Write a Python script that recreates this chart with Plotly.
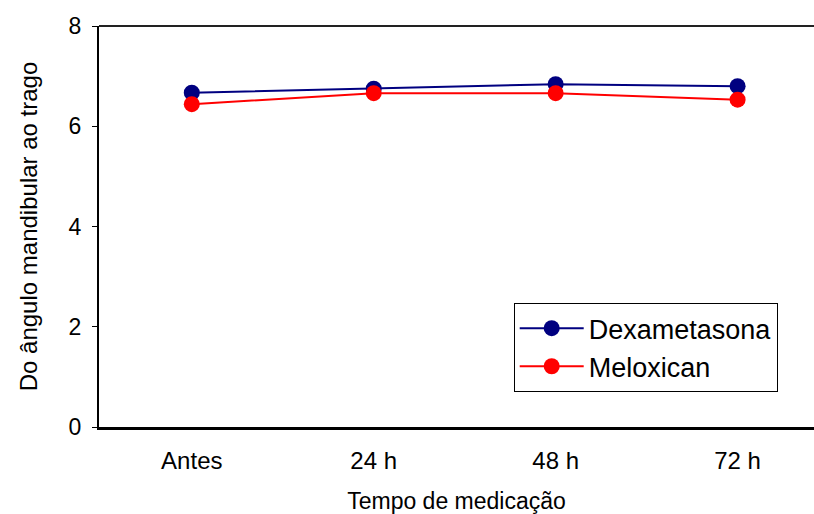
import plotly.graph_objects as go

categories = ["Antes", "24 h", "48 h", "72 h"]
dexametasona = [6.67, 6.75, 6.84, 6.80]
meloxican = [6.44, 6.66, 6.66, 6.53]
y_ticks = [0, 2, 4, 6, 8]

xpos = list(range(len(categories)))
FONT = "Liberation Sans, Arial, sans-serif"

fig = go.Figure()
fig.add_trace(go.Scatter(
    x=xpos, y=dexametasona, name="Dexametasona", mode="lines+markers",
    line=dict(color="#000080", width=2),
    marker=dict(color="#000080", size=16),
))
fig.add_trace(go.Scatter(
    x=xpos, y=meloxican, name="Meloxican", mode="lines+markers",
    line=dict(color="#FF0000", width=2),
    marker=dict(color="#FF0000", size=16),
))

fig.update_layout(
    width=814, height=514,
    margin=dict(l=99, r=0, t=26, b=87),
    paper_bgcolor="white", plot_bgcolor="white",
    font=dict(family=FONT, color="black", size=22),
    showlegend=True,
    legend=dict(
        x=0.580, y=0.309, xanchor="left", yanchor="top",
        bordercolor="black", borderwidth=1, bgcolor="white",
        font=dict(size=27, family=FONT),
        itemwidth=64,
    ),
    xaxis=dict(
        range=[-0.51, 3.42], tickvals=xpos, ticktext=categories,
        showgrid=False, zeroline=False, showline=True,
        linecolor="black", linewidth=3, ticks="",
        tickfont=dict(size=24), ticklabelstandoff=10,
        title=dict(text="Tempo de medicação", standoff=21, font=dict(size=23)),
    ),
    yaxis=dict(
        range=[0, 8], tickvals=y_ticks, showgrid=False, zeroline=False,
        showline=True, linecolor="black", linewidth=2,
        ticks="outside", ticklen=5, tickwidth=1, tickcolor="black",
        tickfont=dict(size=23), ticklabelstandoff=6,
        title=dict(text="Do ângulo mandibular ao trago", standoff=24, font=dict(size=24)),
    ),
)

# frame edge along the top of the plotting area
fig.add_shape(type="line", xref="paper", yref="paper", x0=0, x1=1, y0=1, y1=1,
              line=dict(color="#222222", width=2))

fig.write_html("out.html")
